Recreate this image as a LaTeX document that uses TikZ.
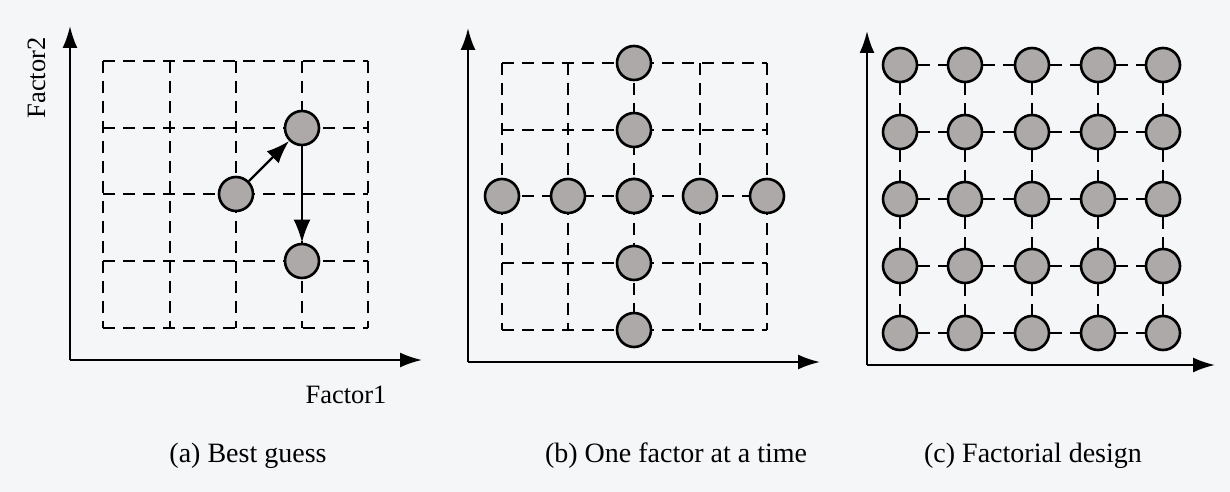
\documentclass[tikz,border=0pt]{standalone}
\usepackage{fontspec}
\setmainfont{Liberation Serif}
\usetikzlibrary{arrows.meta}
\definecolor{paper}{HTML}{F4F6F8}
\definecolor{dotfill}{HTML}{ADA9A9}
\begin{document}
\begin{tikzpicture}[x=1pt,y=-1pt,
  axis/.style={line width=2.2pt,-{Latex[length=22pt,width=15pt]}},
  gridline/.style={line width=2pt,dash pattern=on 12pt off 8pt},
  pt/.style={circle,draw,line width=2.6pt,fill=dotfill,minimum size=34pt,inner sep=0pt},
  move/.style={line width=2.4pt,-{Latex[length=23pt,width=17pt]}},
  lab/.style={font=\fontsize{26.5}{30}\selectfont},
  captext/.style={font=\fontsize{28}{32}\selectfont}]
\fill[paper] (0,0) rectangle (1230,492);
\useasboundingbox (0,0) rectangle (1230,492);
% ---------- panel a ----------
\coordinate (oa) at (70,360);
\coordinate (ya) at (70,26);
\coordinate (xa) at (422,360);
\draw[axis] (oa) -- (ya);
\draw[axis] (oa) -- (xa);
\foreach \x in {103,170,236,302,368} \draw[gridline] (\x,61) -- (\x,328);
\foreach \y in {61,128,194,261,328} \draw[gridline] (103,\y) -- (368,\y);
\node[pt] (a1) at (236,194) {};
\node[pt] (a2) at (302,128) {};
\node[pt] (a3) at (302,261) {};
\draw[move] (a1) -- (a2);
\draw[move] (a2) -- (a3);
\node[lab,rotate=90,anchor=base] (f2) at (45,78) {Factor2};
\node[lab,anchor=base] (f1) at (346,403) {Factor1};
\node[captext,anchor=base] (ca) at (248,462) {(a) Best guess};
% ---------- panel b ----------
\coordinate (ob) at (468,362);
\coordinate (yb) at (468,28);
\coordinate (xb) at (820,362);
\draw[axis] (ob) -- (yb);
\draw[axis] (ob) -- (xb);
\foreach \x in {502,568,634,700,767} \draw[gridline] (\x,63) -- (\x,330);
\foreach \y in {63,130,196,263,330} \draw[gridline] (502,\y) -- (767,\y);
\foreach \y [count=\i] in {63,130,196,263,330} \node[pt] (bv\i) at (634,\y) {};
\foreach \x [count=\i] in {502,568,634,700,767} \node[pt] (bh\i) at (\x,196) {};
\node[captext,anchor=base] (cb) at (676,462) {(b) One factor at a time};
% ---------- panel c ----------
\coordinate (oc) at (867,365);
\coordinate (yc) at (867,31);
\coordinate (xc) at (1215,365);
\draw[axis] (oc) -- (yc);
\draw[axis] (oc) -- (xc);
\foreach \x [count=\i] in {900,965,1032,1098,1163}
  \foreach \y [count=\j] in {65,132,199,266,333}
    \node[pt] (p-\i-\j) at (\x,\y) {};
\foreach \i in {1,2,3,4,5}
  \foreach \j in {1,2,3,4} {
    \pgfmathtruncatemacro{\k}{\j+1}
    \draw[gridline] (p-\i-\j) -- (p-\i-\k);
    \draw[gridline] (p-\j-\i) -- (p-\k-\i);
  }
\node[captext,anchor=base] (cc) at (1033,462) {(c) Factorial design};
\end{tikzpicture}
\end{document}
